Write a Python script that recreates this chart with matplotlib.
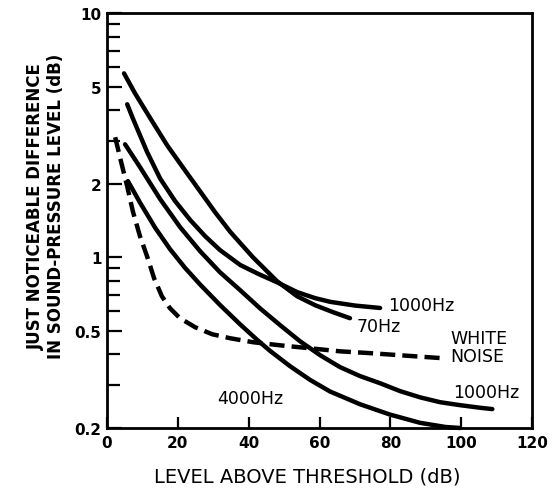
import matplotlib
matplotlib.use('Agg')
import matplotlib.pyplot as plt

plt.rcParams['font.family'] = ['DejaVu Sans']

# curves: level above threshold (dB) -> JND (dB)
hz70_x = [4.8, 7.9, 12.2, 17.0, 22.0, 26.3, 30.5, 34.8, 41.2, 48.0, 53.7, 58.8, 63.8, 68.6]
hz70_y = [5.66, 4.69, 3.71, 2.87, 2.27, 1.86, 1.53, 1.27, 1.0, 0.798, 0.692, 0.636, 0.596, 0.563]

hz1000a_x = [5.7, 7.3, 11.3, 15.0, 19.2, 23.5, 27.7, 31.9, 37.6, 42.7, 48.0, 53.7, 58.8, 63.0, 70.1, 77.1]
hz1000a_y = [4.23, 3.7, 2.7, 2.1, 1.7, 1.42, 1.22, 1.07, 0.93, 0.855, 0.79, 0.72, 0.68, 0.657, 0.634, 0.62]

hz1000b_x = [5.1, 9.3, 15.0, 20.6, 26.3, 31.9, 37.6, 43.2, 48.9, 54.5, 60.2, 65.8, 71.5, 77.1,
             82.8, 88.4, 94.1, 99.7, 105.4, 108.8]
hz1000b_y = [2.90, 2.34, 1.73, 1.33, 1.058, 0.868, 0.733, 0.618, 0.527, 0.453, 0.397, 0.355, 0.326, 0.305,
             0.283, 0.267, 0.255, 0.248, 0.242, 0.239]

hz4000_x = [5.9, 9.3, 13.6, 17.8, 22.0, 26.3, 31.9, 37.6, 42.4, 46.1, 51.7, 57.3, 63.0, 71.5, 79.9, 88.4, 95.5, 99.7]
hz4000_y = [2.05, 1.675, 1.32, 1.079, 0.906, 0.773, 0.638, 0.531, 0.459, 0.413, 0.358, 0.315, 0.282, 0.25, 0.227, 0.21, 0.202, 0.2]

noise_x = [2.3, 4.0, 5.7, 7.3, 9.3, 11.3, 13.3, 15.5, 17.8, 20.6, 24.9, 29.7, 34.8, 41.2, 48.9, 57.3, 65.8, 74.3, 82.8, 94.9]
noise_y = [3.10, 2.45, 1.95, 1.54, 1.22, 1.01, 0.82, 0.692, 0.618, 0.563, 0.517, 0.484, 0.466, 0.449, 0.436, 0.424, 0.412, 0.405, 0.397, 0.386]

x_ticks = [0, 20, 40, 60, 80, 100, 120]
y_ticks = [0.2, 0.5, 1, 2, 5, 10]
y_ticklabels = ['0.2', '0.5', '1', '2', '5', '10']
y_minor = [0.3, 0.4, 0.6, 0.7, 0.8, 0.9, 3, 4, 6, 7, 8, 9]

fig = plt.figure(figsize=(5.58, 4.89), dpi=100)
ax = fig.add_axes([0.1918, 0.1227, 0.7616, 0.8487])

lw = 3.2
ax.plot(hz70_x, hz70_y, color='black', lw=lw, solid_capstyle='round', solid_joinstyle='round')
ax.plot(hz1000a_x, hz1000a_y, color='black', lw=lw, solid_capstyle='round', solid_joinstyle='round')
ax.plot(hz1000b_x, hz1000b_y, color='black', lw=lw, solid_capstyle='round', solid_joinstyle='round')
ax.plot(hz4000_x, hz4000_y, color='black', lw=lw, solid_capstyle='round', solid_joinstyle='round',
        clip_on=False)
ax.plot(noise_x, noise_y, color='black', lw=lw, dashes=(3.4, 1.6))

ax.set_yscale('log')
ax.set_xlim(0, 120)
ax.set_ylim(0.2, 10)
ax.set_xticks(x_ticks)
ax.set_xticklabels([str(t) for t in x_ticks], fontsize=11, fontweight='bold')
ax.set_yticks(y_ticks)
ax.set_yticklabels(y_ticklabels, fontsize=11, fontweight='bold')
ax.set_yticks(y_minor, minor=True)
ax.yaxis.set_minor_formatter(matplotlib.ticker.NullFormatter())

ax.tick_params(axis='y', which='major', direction='in', length=11, width=1.6, pad=4)
ax.tick_params(axis='y', which='minor', direction='in', length=9, width=1.6)
ax.tick_params(axis='x', which='major', direction='in', length=8, width=1.6, pad=5)
for s in ax.spines.values():
    s.set_linewidth(2)

ax.set_xlabel('LEVEL ABOVE THRESHOLD (dB)', fontsize=14, va='center')
ax.xaxis.set_label_coords(0.47, -0.116)
ax.set_ylabel('JUST NOTICEABLE DIFFERENCE\nIN SOUND-PRESSURE LEVEL (dB)', fontsize=12,
              fontweight='bold', va='center', linespacing=1.2)
ax.yaxis.set_label_coords(-0.1435, 0.537)

lab = dict(fontsize=12.5, va='center', ha='left')
ax.text(79.4, 0.636, '1000Hz', **lab)
ax.text(70.6, 0.522, '70Hz', **lab)
ax.text(96.9, 0.428, 'WHITE\nNOISE', linespacing=1.0, **lab)
ax.text(97.7, 0.28, '1000Hz', **lab)
ax.text(31.1, 0.265, '4000Hz', **lab)

fig.savefig('out.png', dpi=100)
